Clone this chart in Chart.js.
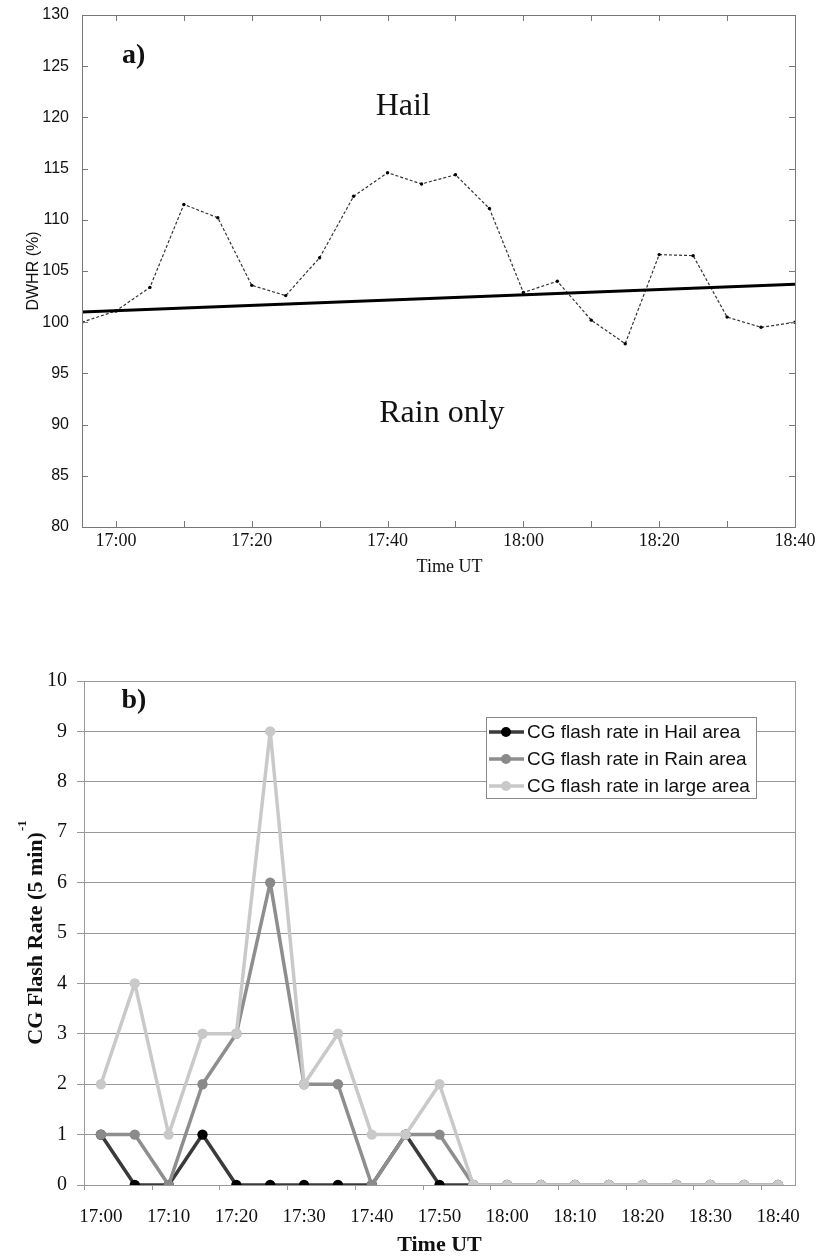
<!DOCTYPE html>
<html><head><meta charset="utf-8">
<script src="https://cdn.jsdelivr.net/npm/chart.js@4/dist/chart.umd.min.js"></script>
<style>
html,body{margin:0;padding:0;background:#fff;}
#wrap{position:relative;width:819px;height:1256px;overflow:hidden;background:#fff;}
#p1{position:absolute;left:0;top:0;width:819px;height:590px;}
#p2{position:absolute;left:0;top:640px;width:819px;height:616px;}
</style></head><body>
<div id="wrap"><div id="p1"><canvas id="c1"></canvas></div><div id="p2"><canvas id="c2"></canvas></div></div>
<script>
// ---------- Panel a data ----------
const dwhrTimes = ['16:55','17:00','17:05','17:10','17:15','17:20','17:25','17:30','17:35','17:40','17:45','17:50','17:55','18:00','18:05','18:10','18:15','18:20','18:25','18:30','18:35','18:40'];
const dwhrValues = [100.0,101.1,103.4,111.5,110.2,103.6,102.6,106.3,112.3,114.6,113.5,114.4,111.1,102.9,104.0,100.2,97.9,106.6,106.5,100.5,99.5,100.0];
const thresholdTimes = ['16:55','18:40'];
const thresholdValues = [101.0,103.7];

// ---------- Panel b data ----------
const flashTimes = ['17:00','17:05','17:10','17:15','17:20','17:25','17:30','17:35','17:40','17:45','17:50','17:55','18:00','18:05','18:10','18:15','18:20','18:25','18:30','18:35','18:40'];
const hailRate  = [1,0,0,1,0,0,0,0,0,1,0,0,0,0,0,0,0,0,0,0,0];
const rainRate  = [1,1,0,2,3,6,2,2,0,1,1,0,0,0,0,0,0,0,0,0,0];
const largeRate = [2,4,1,3,3,9,2,3,1,1,2,0,0,0,0,0,0,0,0,0,0];
const seriesNames = ['CG flash rate in Hail area','CG flash rate in Rain area','CG flash rate in large area'];

const toMin = s => { const p = s.split(':').map(Number); return p[0]*60 + p[1]; };
const fmt = v => Math.floor(v/60) + ':' + String(v%60).padStart(2,'0');

const SERIF = '"Liberation Serif", "Times New Roman", serif';
const SANS = '"Liberation Sans", Arial, sans-serif';

function line(ctx, x1, y1, x2, y2){ ctx.beginPath(); ctx.moveTo(x1,y1); ctx.lineTo(x2,y2); ctx.stroke(); }

// ---------- Panel a plugin: frame, inward ticks, labels ----------
const panelAPlugin = {
  id: 'panelA',
  afterDraw(chart, args, opts){
    const {ctx, chartArea:a, scales:{x, y}} = chart;
    ctx.save();
    ctx.strokeStyle = '#777'; ctx.lineWidth = 1;
    ctx.strokeRect(Math.round(a.left)+0.5, Math.round(a.top)+0.5, Math.round(a.right-a.left), Math.round(a.bottom-a.top));
    for (const t of y.ticks){
      const py = Math.round(y.getPixelForValue(t.value))+0.5;
      line(ctx, a.left, py, a.left+6, py);
      line(ctx, a.right-6, py, a.right, py);
    }
    for (const t of x.ticks){
      if (t.value % 10 !== 0) continue;
      const px = Math.round(x.getPixelForValue(t.value))+0.5;
      line(ctx, px, a.bottom, px, a.bottom-6);
      line(ctx, px, a.top, px, a.top+6);
    }
    ctx.fillStyle = '#111';
    ctx.textAlign = 'center'; ctx.textBaseline = 'alphabetic';
    for (const n of opts.notes){
      ctx.font = n.font;
      ctx.fillText(n.text, x.getPixelForValue(n.x), y.getPixelForValue(n.y));
    }
    ctx.font = '18px ' + SERIF; ctx.textBaseline = 'middle';
    ctx.fillText(opts.xTitle, (a.left+a.right)/2 + 11, 567);
    ctx.restore();
  }
};

new Chart(document.getElementById('c1'), {
  type: 'line',
  data: {
    datasets: [
      {
        label: 'threshold',
        data: thresholdTimes.map((t,i)=>({x: toMin(t), y: thresholdValues[i]})),
        borderColor: '#000', borderWidth: 3, pointRadius: 0, tension: 0, order: 0
      },
      {
        label: 'DWHR',
        data: dwhrTimes.map((t,i)=>({x: toMin(t), y: dwhrValues[i]})),
        borderColor: '#333', borderWidth: 1.2, borderDash: [3,2],
        pointRadius: 1.7, pointBackgroundColor: '#000', pointBorderWidth: 0, tension: 0, order: 1
      }
    ]
  },
  options: {
    responsive: true, maintainAspectRatio: false, animation: false,
    layout: { padding: { top: 15, right: 24, left: 0, bottom: 0 } },
    plugins: {
      legend: { display: false }, tooltip: { enabled: false },
      panelA: {
        xTitle: 'Time UT',
        notes: [
          { text: 'a)', x: 1022.6, y: 125.3, font: 'bold 28px ' + SERIF },
          { text: 'Hail', x: 1062.3, y: 120.2, font: '32px ' + SERIF },
          { text: 'Rain only', x: 1068.0, y: 90.25, font: '32px ' + SERIF }
        ]
      }
    },
    scales: {
      x: {
        type: 'linear', min: toMin('16:55'), max: toMin('18:40'),
        grid: { display: false }, border: { display: false },
        ticks: { stepSize: 10, includeBounds: false, padding: -3, color: '#111', font: { family: SERIF, size: 18, lineHeight: 1 },
          maxRotation: 0, autoSkip: false,
          callback: v => (v % 20 === 0 ? fmt(v) : '') },
        afterFit: s => { s.height = 63; }
      },
      y: {
        min: 80, max: 130,
        grid: { display: false }, border: { display: false },
        ticks: { stepSize: 5, padding: 5, color: '#111', font: { family: SANS, size: 16 } },
        title: { display: true, text: 'DWHR (%)', color: '#111', font: { family: SANS, size: 16 }, padding: { top: 24, bottom: 0 } },
        afterFit: s => { s.width = 82; }
      }
    }
  },
  plugins: [panelAPlugin]
});

// ---------- Panel b plugin ----------
const panelBPlugin = {
  id: 'panelB',
  afterDraw(chart, args, opts){
    const {ctx, chartArea:a, scales:{x, y}} = chart;
    ctx.save();
    ctx.strokeStyle = '#999'; ctx.lineWidth = 1;
    const rx = Math.round(a.right)+0.5;
    line(ctx, rx, a.top, rx, a.bottom);
    for (let i = -0.5; i <= flashTimes.length - 0.5; i += 2){
      const px = Math.round(x.getPixelForValue(i))+0.5;
      line(ctx, px, a.bottom, px, a.bottom+5);
    }
    // panel label
    ctx.fillStyle = '#111'; ctx.textAlign = 'center'; ctx.textBaseline = 'alphabetic';
    ctx.font = 'bold 28px ' + SERIF;
    ctx.fillText(opts.tag.text, x.getPixelForValue(opts.tag.x), y.getPixelForValue(opts.tag.y));
    // y title with superscript
    ctx.save();
    const cy = (a.top + a.bottom)/2;
    ctx.translate(opts.yTitleX, cy);
    ctx.rotate(-Math.PI/2);
    ctx.font = 'bold 22px ' + SERIF;
    const w1 = ctx.measureText(opts.yTitle).width;
    ctx.font = 'bold 13px ' + SERIF;
    const w2 = ctx.measureText(opts.yTitleSup).width;
    const start = -(w1 + w2)/2;
    ctx.textAlign = 'left';
    ctx.font = 'bold 22px ' + SERIF;
    ctx.fillText(opts.yTitle, start, 0);
    ctx.font = 'bold 13px ' + SERIF;
    ctx.fillText(opts.yTitleSup, start + w1 + 1, -16);
    ctx.restore();
    // legend
    const L = opts.legend;
    ctx.fillStyle = '#fff'; ctx.strokeStyle = '#888'; ctx.lineWidth = 1;
    ctx.fillRect(L.left, L.top, L.width, L.height);
    ctx.strokeRect(L.left+0.5, L.top+0.5, L.width, L.height);
    ctx.font = '19px ' + SANS; ctx.textAlign = 'left'; ctx.textBaseline = 'middle';
    chart.data.datasets.forEach((ds, i) => {
      const ry = L.top + 15 + i*27;
      ctx.strokeStyle = ds.borderColor; ctx.lineWidth = 3.5;
      line(ctx, L.left+3, ry, L.left+38, ry);
      ctx.fillStyle = ds.pointBackgroundColor;
      ctx.beginPath(); ctx.arc(L.left+20, ry, 5, 0, Math.PI*2); ctx.fill();
      ctx.fillStyle = '#111';
      ctx.fillText(ds.label, L.left+41, ry+1);
    });
    ctx.restore();
  }
};

const mk = (label, data, lineColor, dotColor, order) => ({
  label, data, borderColor: lineColor, backgroundColor: dotColor,
  pointBackgroundColor: dotColor, pointBorderColor: dotColor, pointBorderWidth: 0,
  pointRadius: 5.2, borderWidth: 3.5, borderJoinStyle: 'round', borderCapStyle: 'round', tension: 0, order
});

new Chart(document.getElementById('c2'), {
  type: 'line',
  data: {
    labels: flashTimes,
    datasets: [
      mk(seriesNames[0], hailRate, '#3a3a3a', '#000000', 3),
      mk(seriesNames[1], rainRate, '#8e8e8e', '#8a8a8a', 2),
      mk(seriesNames[2], largeRate, '#c9c9c9', '#c9c9c9', 1)
    ]
  },
  options: {
    responsive: true, maintainAspectRatio: false, animation: false,
    layout: { padding: { top: 41, right: 24, left: 0, bottom: 0 } },
    plugins: {
      legend: { display: false }, tooltip: { enabled: false },
      panelB: {
        tag: { text: 'b)', x: 0.975, y: 9.46 },
        yTitle: 'CG Flash Rate (5 min)', yTitleSup: '-1', yTitleX: 42,
        legend: { left: 486, top: 77, width: 270, height: 81 }
      }
    },
    scales: {
      x: {
        type: 'category', offset: true,
        grid: { display: false },
        border: { display: true, color: '#999', width: 1 },
        ticks: { autoSkip: false, maxRotation: 0, padding: 13, color: '#111', font: { family: SERIF, size: 19 },
          callback: function(v, i){ return i % 2 === 0 ? this.getLabelForValue(v) : ''; } },
        title: { display: true, text: 'Time UT', color: '#111', font: { family: SERIF, size: 22, weight: 'bold', lineHeight: 1 }, padding: { top: 0, bottom: 0 } },
        afterFit: s => { s.height = 71; }
      },
      y: {
        min: 0, max: 10,
        grid: { color: '#999', lineWidth: 1, tickLength: 7, tickColor: '#999' },
        border: { display: true, color: '#999', width: 1 },
        ticks: { stepSize: 1, padding: 10, color: '#111', font: { family: SERIF, size: 20 } },
        afterFit: s => { s.width = 84; }
      }
    }
  },
  plugins: [panelBPlugin]
});
</script>
</body></html>
